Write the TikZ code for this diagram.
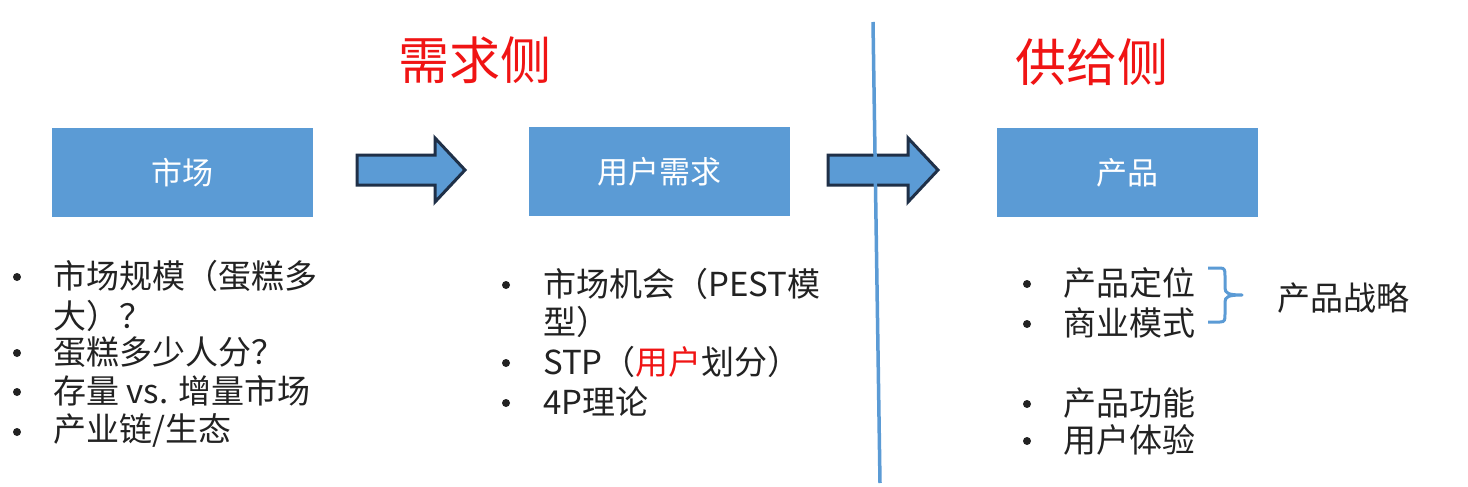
\documentclass[tikz,border=0pt]{standalone}
\usepackage{fontspec}
\setmainfont{Noto Sans CJK SC}
\definecolor{boxblue}{HTML}{5B9BD5}
\definecolor{arrowedge}{HTML}{1F3048}
\definecolor{txt}{HTML}{222222}
\definecolor{titlered}{HTML}{F01414}
\begin{document}
\begin{tikzpicture}[x=1pt,y=-1pt,
  bluebox/.style={fill=boxblue,draw=none,minimum width=261pt,minimum height=89pt,text=white,font=\fontsize{31}{36}\selectfont},
  title/.style={text=titlered,font=\fontsize{51}{58}\selectfont},
  item/.style={anchor=west,inner sep=0pt,text=txt,font=\fontsize{33}{38}\selectfont},
  dot/.style={circle,fill=txt,draw=none,inner sep=0pt,minimum size=8pt},
  blockarrow/.style={fill=boxblue,draw=arrowedge,line width=3pt,line join=miter},
  divider/.style={draw=boxblue,line width=3.5pt}
]
\useasboundingbox (0,0) rectangle (1468,487);
\fill[white] (0,0) rectangle (1468,487);

% titles
\node[title] (tdemand) at (475,60) {需求侧};
\node[title] (tsupply) at (1092,62) {供给侧};

% boxes
\node[bluebox] (market) at (182.5,172.5) {市场};
\node[bluebox] (need) at (659.5,171.5) {用户需求};
\node[bluebox] (product) at (1127.5,172.5) {产品};

% block arrows
\draw[blockarrow] (357,155) -- (435,155) -- (435,138) -- (465,170) -- (435,202) -- (435,185) -- (357,185) -- cycle;
\draw[blockarrow] (828,155) -- (908,155) -- (908,138) -- (938,170) -- (908,202) -- (908,185) -- (828,185) -- cycle;

% divider
\coordinate (dtop) at (873,22);
\coordinate (dbot) at (880,483);
\draw[divider] (dtop) -- (dbot);

% left list
\node[dot] (b1) at (17,277) {};
\node[item] (l1) at (53,276) {市场规模（蛋糕多};
\node[item] (l1b) at (53,316) {大）？};
\node[dot] (b2) at (17,353) {};
\node[item] (l2) at (53,352) {蛋糕多少人分？};
\node[dot] (b3) at (17,392) {};
\node[item] (l3) at (53,391) {存量 vs. 增量市场};
\node[dot] (b4) at (17,432) {};
\node[item] (l4) at (53,431) {产业链/生态};

% middle list
\node[dot] (m1d) at (506,285) {};
\node[item] (m1) at (543,284) {市场机会（PEST模};
\node[item] (m1b) at (543,322) {型）};
\node[dot] (m2d) at (506,363) {};
\node[item] (m2) at (543,362) {STP（\textcolor{titlered}{用户}划分）};
\node[dot] (m3d) at (506,403) {};
\node[item] (m3) at (543,402) {4P理论};

% right list
\node[dot] (r1d) at (1027,284) {};
\node[item] (r1) at (1063,283) {产品定位};
\node[dot] (r2d) at (1027,324) {};
\node[item] (r2) at (1063,323) {商业模式};
\node[dot] (r3d) at (1027,404) {};
\node[item] (r3) at (1063,403) {产品功能};
\node[dot] (r4d) at (1027,441) {};
\node[item] (r4) at (1063,440) {用户体验};

% brace
\draw[boxblue,line width=3pt,line join=round] (1208,268) -- (1220,268) .. controls (1225,268) and (1225,270) .. (1225,276) -- (1225,288) .. controls (1225,293) and (1228,295) .. (1242,295) .. controls (1228,295) and (1225,297) .. (1225,302) -- (1225,314) .. controls (1225,320) and (1225,322) .. (1220,322) -- (1208,322);
\node[item] (strategy) at (1277,298) {产品战略};
\end{tikzpicture}
\end{document}
